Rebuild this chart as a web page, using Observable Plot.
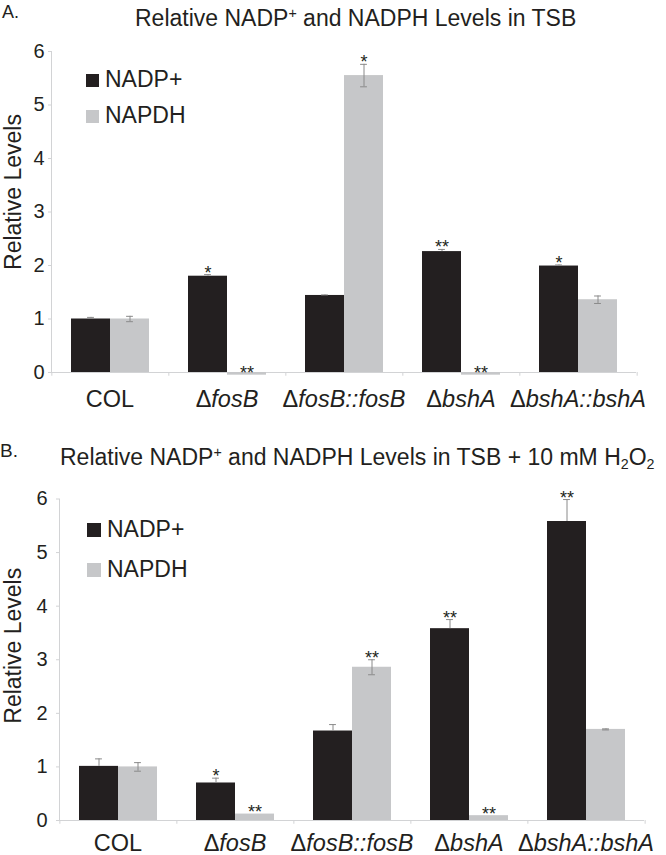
<!DOCTYPE html>
<html>
<head>
<meta charset="utf-8">
<script src="https://cdn.jsdelivr.net/npm/d3@7"></script>
<script src="https://cdn.jsdelivr.net/npm/@observablehq/plot@0.6"></script>
<style>
  body { margin: 0; background: #fff; }
  #root { position: relative; width: 666px; height: 855px; overflow: hidden; font-family: "Liberation Sans", Arial, sans-serif; color: #231f20; }
  .abs { position: absolute; white-space: nowrap; line-height: 1; }
  .sup { position: relative; top: -0.5em; font-size: 0.62em; vertical-align: baseline; }
  .sub { position: relative; top: 0.28em; font-size: 0.62em; vertical-align: baseline; }
  .sw { position: absolute; }
</style>
</head>
<body>
<div id="root"></div>
<script>
// ---- data ----
const categories = ["COL", "ΔfosB", "ΔfosB::fosB", "ΔbshA", "ΔbshA::bshA"];
const series = ["NADP+", "NAPDH"];
const seriesColors = ["#231f20", "#c6c7c9"];
const yTicks = [0, 1, 2, 3, 4, 5, 6];

// Panel A: TSB
const nadpA      = [1.00, 1.80, 1.44, 2.26, 1.99];
const nadpErrA   = [0.03, 0.03, 0.01, 0.04, 0.02];
const nadphA     = [1.00, -0.05, 5.55, -0.05, 1.36];
const nadphErrA  = [0.05, 0.00, 0.21, 0.00, 0.07];
const starsNadpA  = ["", "*", "", "**", "*"];
const starsNadphA = ["", "**", "*", "**", ""];

// Panel B: TSB + 10 mM H2O2
const nadpB      = [1.01, 0.70, 1.67, 3.58, 5.58];
const nadpErrB   = [0.14, 0.09, 0.12, 0.17, 0.41];
const nadphB     = [1.00, 0.12, 2.86, 0.09, 1.70];
const nadphErrB  = [0.08, 0.00, 0.14, 0.00, 0.01];
const starsNadpB  = ["", "*", "", "**", "**"];
const starsNadphB = ["", "**", "**", "**", ""];

// ---- drawing ----
const W = 666;
const FONT = '"Liberation Sans", Arial, sans-serif';
const INK = "#231f20";
const AXIS = "#d2d3d5";
const ERR = "#8a8a8a";
const root = document.getElementById("root");

function addText(html, left, baseline, size, extra) {
  const d = document.createElement("div");
  d.className = "abs";
  d.style.left = left + "px";
  d.style.top = (baseline - 0.8465 * size) + "px";
  d.style.fontSize = size + "px";
  if (extra) Object.assign(d.style, extra);
  d.innerHTML = html;
  root.appendChild(d);
  return d;
}

function addLegend(x, rows, size, sq) {
  series.forEach((s, i) => {
    const r = rows[i];
    const b = document.createElement("div");
    b.className = "sw";
    b.style.left = x + "px";
    b.style.top = (r - sq) + "px";
    b.style.width = sq + "px";
    b.style.height = sq + "px";
    b.style.background = seriesColors[i];
    root.appendChild(b);
    addText(s, x + sq + 6, r, size);
  });
}

function panel(o) {
  const rows = [];
  categories.forEach((c, i) => {
    rows.push({cat: c, s: series[0], v: o.nadp[i], e: o.nadpErr[i], star: o.starsNadp[i]});
    rows.push({cat: c, s: series[1], v: o.nadph[i], e: o.nadphErr[i], star: o.starsNadph[i]});
  });
  const facetW = (W - o.marginLeft - o.marginRight) / categories.length;
  const step = facetW / 3;
  const capInset = (step - 7) / 2;
  const errRows = rows.filter(d => d.e > 0);
  const svg = Plot.plot({
    width: W,
    height: o.height,
    marginLeft: o.marginLeft,
    marginRight: o.marginRight,
    marginTop: o.marginTop,
    marginBottom: o.marginBottom,
    style: {fontFamily: FONT, color: INK, background: "transparent", overflow: "visible"},
    fx: {domain: categories, padding: 0, label: null, axis: null},
    x: {domain: series, paddingInner: 0, paddingOuter: 0.5, axis: null},
    y: {domain: [0, 6], axis: null},
    color: {domain: series, range: seriesColors},
    marks: [
      Plot.axisY({ticks: yTicks, tickFormat: d3.format("d"), tickSize: 3, tickPadding: o.yPad, fontSize: 20, label: null, stroke: AXIS, fill: INK}),
      Plot.axisFx({anchor: "bottom", tickSize: 0, tickPadding: o.xPad, fontSize: 23.5, label: null, fill: INK}),
      Plot.frame({anchor: "left", stroke: AXIS, facetAnchor: "left"}),
      Plot.ruleY([0], {stroke: AXIS}),
      Plot.ruleX([series[0]], {x: d => d, y1: 0, y2: -0.07, dx: -step, stroke: AXIS}),
      Plot.ruleX([{c: categories[categories.length - 1], s: series[1]}], {fx: "c", x: "s", y1: 0, y2: -0.07, dx: step, stroke: AXIS}),
      Plot.barY(rows, {fx: "cat", x: "s", y: "v", fill: "s"}),
      Plot.ruleX(errRows, {fx: "cat", x: "s", y1: d => d.s === series[0] ? d.v : d.v - d.e, y2: d => d.v + d.e, stroke: ERR, strokeWidth: 1}),
      Plot.tickY(errRows, {fx: "cat", x: "s", y: d => d.v + d.e, insetLeft: capInset, insetRight: capInset, stroke: ERR}),
      Plot.tickY(errRows.filter(d => d.s === series[1]), {fx: "cat", x: "s", y: d => d.v - d.e, insetLeft: capInset, insetRight: capInset, stroke: ERR}),
      Plot.text(rows.filter(d => d.star), {fx: "cat", x: "s", y: d => d.v + d.e, text: "star", lineAnchor: "bottom", dy: 4, fontSize: 18, fill: INK}),
      Plot.text(["Relative Levels"], {frameAnchor: "left", textAnchor: "middle", lineAnchor: "middle", rotate: -90, dx: o.labDx, dy: o.labDy, fontSize: 23, fill: INK, facetAnchor: "left"})
    ]
  });
  // italic gene names in category labels
  svg.querySelectorAll("text").forEach(t => {
    const s = t.textContent;
    if (categories.includes(s) && s.startsWith("Δ")) {
      t.textContent = "";
      const ns = "http://www.w3.org/2000/svg";
      const a = document.createElementNS(ns, "tspan");
      a.textContent = "Δ";
      const b = document.createElementNS(ns, "tspan");
      b.textContent = s.slice(1);
      b.setAttribute("font-style", "italic");
      t.appendChild(a);
      t.appendChild(b);
    }
  });
  const wrap = document.createElement("div");
  wrap.style.position = "absolute";
  wrap.style.left = "0px";
  wrap.style.top = o.top + "px";
  wrap.appendChild(svg);
  root.appendChild(wrap);
}

// Panel A
addText("A.", 2, 18, 18);
addText('Relative NADP<span class="sup">+</span> and NADPH Levels in TSB', 135, 26, 23);
panel({
  top: 30, height: 390, marginLeft: 50, marginRight: 28.5, marginTop: 21, marginBottom: 48,
  nadp: nadpA, nadpErr: nadpErrA, nadph: nadphA, nadphErr: nadphErrA,
  starsNadp: starsNadpA, starsNadph: starsNadphA,
  yPad: 4, xPad: 18, labDx: -37.5, labDy: -20
});
addLegend(86, [87, 123], 23, 13);

// Panel B
addText("B.", 0, 457, 19);
addText('Relative NADP<span class="sup">+</span> and NADPH Levels in TSB + 10 mM H<span class="sub">2</span>O<span class="sub">2</span>', 60, 465, 23);
panel({
  top: 470, height: 385, marginLeft: 58, marginRight: 21, marginTop: 28.5, marginBottom: 35,
  nadp: nadpB, nadpErr: nadpErrB, nadph: nadphB, nadphErr: nadphErrB,
  starsNadp: starsNadpB, starsNadph: starsNadphB,
  yPad: 9, xPad: 14, labDx: -45.5, labDy: -14
});
addLegend(87, [537, 577], 23, 14);
</script>
</body>
</html>
